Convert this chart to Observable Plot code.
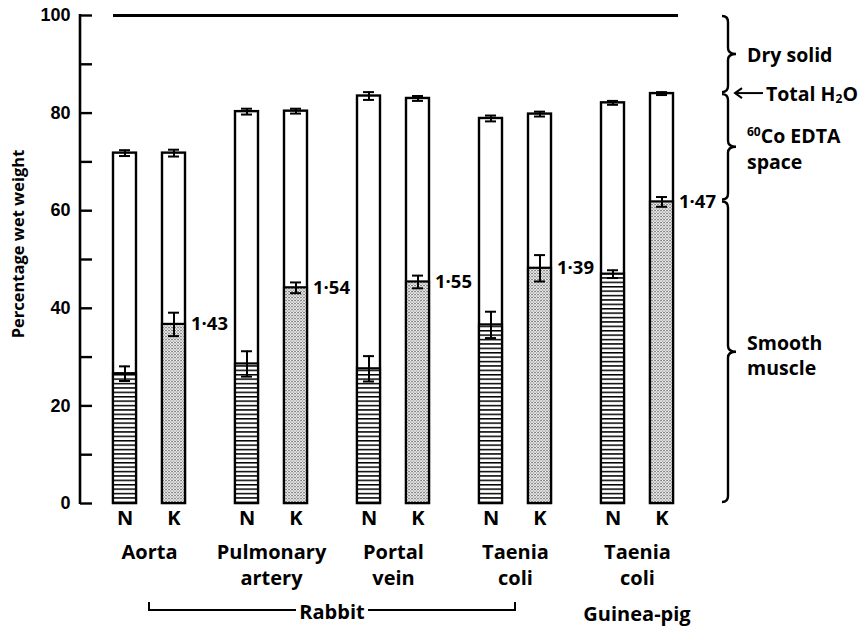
<!DOCTYPE html>
<html><head><meta charset="utf-8">
<script src="https://cdn.jsdelivr.net/npm/d3@7"></script>
<script src="https://cdn.jsdelivr.net/npm/@observablehq/plot@0.6"></script>
<style>body{margin:0;background:#fff;} svg{display:block;}</style>
</head><body><div id="chart"></div>
<script>
// ---- data ----
const groups = ["aorta", "pulm", "portal", "taeniaR", "taeniaGP"];
const groupLabels = ["Aorta", "Pulmonary\nartery", "Portal\nvein", "Taenia\ncoli", "Taenia\ncoli"];
const conditionLabels = ["N", "K"];
const totalN = [71.8, 80.3, 83.5, 78.9, 82.1];
const totalNErr = [0.6, 0.6, 0.8, 0.6, 0.4];
const totalK = [71.8, 80.4, 83.0, 79.8, 84.0];
const totalKErr = [0.7, 0.5, 0.5, 0.5, 0.3];
const muscleN = [26.6, 28.6, 27.6, 36.6, 47.0];
const muscleNErr = [1.5, 2.6, 2.6, 2.7, 0.8];
const muscleK = [36.7, 44.2, 45.4, 48.2, 61.8];
const muscleKErr = [2.4, 1.1, 1.3, 2.7, 1.0];
const ratios = ["1·43", "1·54", "1·55", "1·39", "1·47"];
const yTicks = [0, 10, 20, 30, 40, 50, 60, 70, 80, 90, 100];
const yTickLabels = ["0", "", "20", "", "40", "", "60", "", "80", "", "100"];
const dryTotal = 100;
const braceStops = [100, 84, 62, 0];
const yLabel = "Percentage wet weight";
const speciesLabels = ["Rabbit", "Guinea-pig"];
const rabbitSpan = ["aorta", "taeniaR"];

const rows = (tot, totE, mus, musE) => groups.map((g, i) => ({
  group: g, total: tot[i], totalErr: totE[i], muscle: mus[i], muscleErr: musE[i], ratio: ratios[i]
}));
const N = rows(totalN, totalNErr, muscleN, muscleNErr);
const K = rows(totalK, totalKErr, muscleK, muscleKErr);

const OFF = 24.5;      // half distance between N and K bars (px)
const BAR_INSET = 49.5; // narrows 122px band to ~23px bar
const CAP_INSET = 55.5;
const FONT = "'Open Sans', Lato, sans-serif";
const LFS = 20; // label font size

function barMarks(data, dx, fillId) {
  return [
    Plot.barY(data, {x: "group", y1: 0, y2: "total", fill: "white", stroke: "black", strokeWidth: 2.4,
      insetLeft: BAR_INSET, insetRight: BAR_INSET, dx}),
    Plot.barY(data, {x: "group", y1: 0, y2: "muscle", fill: `url(#${fillId})`, stroke: "black", strokeWidth: 2.2,
      insetLeft: BAR_INSET, insetRight: BAR_INSET, dx}),
    Plot.ruleX(data, {x: "group", y1: d => d.total - d.totalErr, y2: d => d.total + d.totalErr, stroke: "black", strokeWidth: 2, dx}),
    Plot.tickY(data, {x: "group", y: d => d.total + d.totalErr, stroke: "black", strokeWidth: 2, insetLeft: CAP_INSET, insetRight: CAP_INSET, dx}),
    Plot.tickY(data, {x: "group", y: d => d.total - d.totalErr, stroke: "black", strokeWidth: 2, insetLeft: CAP_INSET, insetRight: CAP_INSET, dx}),
    Plot.ruleX(data, {x: "group", y1: d => d.muscle - d.muscleErr, y2: d => d.muscle + d.muscleErr, stroke: "black", strokeWidth: 2, dx}),
    Plot.tickY(data, {x: "group", y: d => d.muscle + d.muscleErr, stroke: "black", strokeWidth: 2, insetLeft: CAP_INSET, insetRight: CAP_INSET, dx}),
    Plot.tickY(data, {x: "group", y: d => d.muscle - d.muscleErr, stroke: "black", strokeWidth: 2, insetLeft: CAP_INSET, insetRight: CAP_INSET, dx})
  ];
}

const plot = Plot.plot({
  width: 868,
  height: 627,
  marginTop: 15,
  marginBottom: 124,
  marginLeft: 80,
  marginRight: 160,
  style: {fontFamily: FONT, background: "white", color: "black"},
  x: {domain: groups, range: [88, 698], paddingInner: 0, paddingOuter: 0, axis: null},
  y: {domain: [0, 100], axis: null},
  marks: [
    Plot.axisY(yTicks, {tickSize: 12, dx: 12, tickPadding: 10, strokeWidth: 2.4,
      tickFormat: d => yTickLabels[yTicks.indexOf(d)], fontSize: 18, fontWeight: "bold",
      fontFamily: "'Liberation Sans', Arial, sans-serif", label: null}),
    Plot.ruleY([dryTotal], {stroke: "black", strokeWidth: 3, insetLeft: 33, insetRight: 30}),
    ...barMarks(N, -OFF, "stripes"),
    ...barMarks(K, OFF, "dots"),
    Plot.text(K, {x: "group", y: "muscle", text: "ratio", dx: OFF + 17, textAnchor: "start",
      fontSize: 18.5, fontWeight: "bold"}),
    Plot.text(groups, {x: d => d, text: () => conditionLabels[0], frameAnchor: "bottom", dy: 21, dx: -OFF, fontSize: LFS, fontWeight: "bold"}),
    Plot.text(groups, {x: d => d, text: () => conditionLabels[1], frameAnchor: "bottom", dy: 21, dx: OFF, fontSize: LFS, fontWeight: "bold"}),
    Plot.text(groups, {x: d => d, text: (d, i) => groupLabels[i], frameAnchor: "bottom", lineAnchor: "top",
      dy: 37, lineHeight: 1.3, fontSize: LFS, fontWeight: "bold"})
  ]
});

document.getElementById("chart").appendChild(plot);

// ---- patterns & annotations using Plot's scales ----
const svg = d3.select(plot);
const defs = svg.insert("defs", ":first-child");
const st = defs.append("pattern").attr("id", "stripes").attr("patternUnits", "userSpaceOnUse")
  .attr("width", 8).attr("height", 4.4);
st.append("rect").attr("width", 8).attr("height", 4.4).attr("fill", "white");
st.append("rect").attr("y", 0).attr("width", 8).attr("height", 1.5).attr("fill", "black");
const dt = defs.append("pattern").attr("id", "dots").attr("patternUnits", "userSpaceOnUse")
  .attr("width", 3).attr("height", 3);
dt.append("rect").attr("width", 3).attr("height", 3).attr("fill", "white");
dt.append("rect").attr("x", 0).attr("y", 0).attr("width", 1.1).attr("height", 1.1).attr("fill", "#222");
dt.append("rect").attr("x", 1.5).attr("y", 1.5).attr("width", 1.1).attr("height", 1.1).attr("fill", "#222");

const ys = plot.scale("y"), xs = plot.scale("x");
const Y = v => ys.apply(v);
const CX = k => xs.apply(k) + xs.bandwidth / 2;
const g = svg.append("g").attr("fill", "black").attr("font-family", FONT).attr("font-weight", "bold")
  .attr("text-anchor", "start");

// y axis line
g.append("line").attr("x1", 80).attr("x2", 80).attr("y1", Y(100) - 1).attr("y2", Y(0) + 1)
  .attr("stroke", "black").attr("stroke-width", 2.6);

// y label
g.append("text").attr("transform", `translate(17,${(Y(0) + Y(100)) / 2 - 15}) rotate(-90)`)
  .attr("text-anchor", "middle").attr("dominant-baseline", "central").attr("font-size", 16.5).text(yLabel);

// right-side braces
const bx = 728;
function brace(y0, y1) {
  const ym = (y0 + y1) / 2, r = 6;
  return `M${bx - 6},${y0} Q${bx},${y0} ${bx},${y0 + r} L${bx},${ym - r} Q${bx},${ym} ${bx + 8},${ym}` +
         ` Q${bx},${ym} ${bx},${ym + r} L${bx},${y1 - r} Q${bx},${y1} ${bx - 6},${y1}`;
}
for (let i = 0; i < braceStops.length - 1; i++) {
  g.append("path").attr("d", brace(Y(braceStops[i]) + 1, Y(braceStops[i + 1]) - 1))
    .attr("fill", "none").attr("stroke", "black").attr("stroke-width", 2.4);
}
const tx = 747;
const fs = 19.5;
g.append("text").attr("x", tx).attr("y", (Y(100) + Y(84)) / 2).attr("dominant-baseline", "central")
  .attr("font-size", fs).text("Dry solid");
const ay = Y(84);
g.append("line").attr("x1", 735).attr("x2", 763).attr("y1", ay).attr("y2", ay).attr("stroke", "black").attr("stroke-width", 2);
g.append("path").attr("d", `M${742},${ay - 5} L${735},${ay} L${742},${ay + 5}`).attr("fill", "none")
  .attr("stroke", "black").attr("stroke-width", 2);
const th = g.append("text").attr("x", 766).attr("y", ay).attr("dominant-baseline", "central").attr("font-size", fs);
th.append("tspan").text("Total H");
th.append("tspan").attr("font-size", 12).attr("dy", 5).text("2");
th.append("tspan").attr("dy", -5).text("O");
const co = g.append("text").attr("x", tx).attr("y", Y(84) + 50).attr("font-size", fs);
co.append("tspan").attr("font-size", 12).attr("dy", -7).text("60");
co.append("tspan").attr("dy", 7).text("Co EDTA");
g.append("text").attr("x", tx).attr("y", Y(84) + 76).attr("font-size", fs).text("space");
const sm = (Y(62) + Y(0)) / 2;
g.append("text").attr("x", tx).attr("y", sm - 2).attr("font-size", fs).text("Smooth");
g.append("text").attr("x", tx).attr("y", sm + 23).attr("font-size", fs).text("muscle");

// species bracket
const by = 610;
const x0 = CX(rabbitSpan[0]), x1 = CX(rabbitSpan[1]);
const xm = (x0 + x1) / 2;
g.append("path").attr("d", `M${x0},${by - 8} L${x0},${by} L${xm - 36},${by}`).attr("fill", "none")
  .attr("stroke", "black").attr("stroke-width", 2);
g.append("path").attr("d", `M${xm + 36},${by} L${x1},${by} L${x1},${by - 8}`).attr("fill", "none")
  .attr("stroke", "black").attr("stroke-width", 2);
g.append("text").attr("x", xm).attr("y", by + 1).attr("text-anchor", "middle").attr("dominant-baseline", "central")
  .attr("font-size", LFS).text(speciesLabels[0]);
g.append("text").attr("x", CX("taeniaGP")).attr("y", by + 3).attr("text-anchor", "middle").attr("dominant-baseline", "central")
  .attr("font-size", LFS).text(speciesLabels[1]);
</script>
</body></html>
